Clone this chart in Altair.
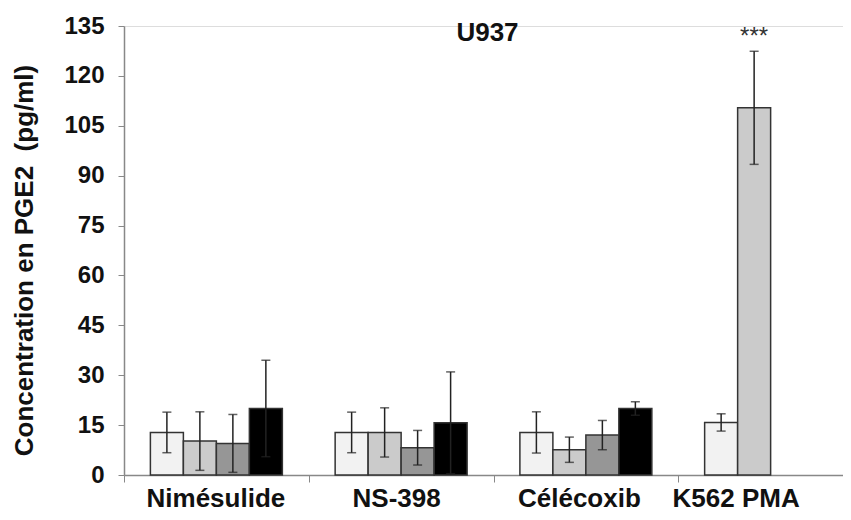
import altair as alt
import pandas as pd

categories = ["Nimésulide", "NS-398", "Célécoxib", "K562 PMA"]
label_shift = [-1, -5, -7, -35]
series = ["s1", "s2", "s3", "s4"]
colors = ["#f2f2f2", "#cbcbcb", "#969696", "#000000"]

mean_s1 = [12.8, 12.8, 12.8, 15.8]
err_s1 = [6.1, 6.1, 6.2, 2.6]
mean_s2 = [10.2, 12.8, 7.6, 110.4]
err_s2 = [8.8, 7.4, 3.8, 17.0]
mean_s3 = [9.5, 8.2, 12.0, None]
err_s3 = [8.7, 5.2, 4.4, None]
mean_s4 = [20.0, 15.7, 20.0, None]
err_s4 = [14.5, 15.3, 2.0, None]

star_cat = ["K562 PMA"]
star_series = ["s2"]
star_text = ["***"]

rows = []
for s, m, e in zip(series, [mean_s1, mean_s2, mean_s3, mean_s4],
                   [err_s1, err_s2, err_s3, err_s4]):
    for c, mv, ev in zip(categories, m, e):
        if mv is None:
            continue
        rows.append({"cat": c, "series": s, "mean": mv, "lo": mv - ev, "hi": mv + ev})
df = pd.DataFrame(rows)

star_rows = []
for c, s, t in zip(star_cat, star_series, star_text):
    r = df[(df.cat == c) & (df.series == s)].iloc[0]
    star_rows.append({"cat": c, "series": s, "hi": r["hi"], "txt": t})
star_df = pd.DataFrame(star_rows)

FONT = "Liberation Sans"

label_offset = {
    "condition": [{"test": f"datum.value === '{c}'", "value": v}
                  for c, v in zip(categories[1:], label_shift[1:])],
    "value": label_shift[0],
}

x_enc = alt.X(
    "cat:N", sort=categories,
    scale=alt.Scale(domain=categories, range=[0, 739], paddingInner=0, paddingOuter=0),
    axis=alt.Axis(title=None, labelAngle=0, labelFontSize=26, labelFontWeight="bold",
                  labelFont=FONT, labelColor="#111", tickBand="extent", tickSize=7,
                  labelPadding=3, labelOffset=label_offset,
                  domainColor="#888", tickColor="#888", domainWidth=1.5),
)
xoff_enc = alt.XOffset(
    "series:N", sort=series,
    scale=alt.Scale(domain=series, paddingInner=0, paddingOuter=0.8),
)
y_scale = alt.Scale(domain=[0, 135], nice=False)

bars = alt.Chart(df).mark_bar(stroke="#333", strokeWidth=1.5).encode(
    x=x_enc, xOffset=xoff_enc,
    y=alt.Y("mean:Q", scale=y_scale,
            axis=alt.Axis(values=list(range(0, 136, 15)),
                          title="Concentration en PGE2\u00a0 (pg/ml)",
                          titleFontSize=26, titleFontWeight="bold", titleFont=FONT,
                          titleColor="#111", titlePadding=26, titleY=234,
                          labelFontSize=24, labelFontWeight="bold", labelFont=FONT,
                          labelColor="#111", labelPadding=14, tickSize=6, grid=False,
                          domainColor="#888", tickColor="#888", domainWidth=1.5)),
    color=alt.Color("series:N", scale=alt.Scale(domain=series, range=colors), legend=None),
)

rules = alt.Chart(df).mark_rule(color="#222", strokeWidth=1.5).encode(
    x=alt.X("cat:N", sort=categories), xOffset=alt.XOffset("series:N", sort=series),
    y=alt.Y("lo:Q"), y2="hi:Q",
)
caps_hi = alt.Chart(df).mark_tick(orient="horizontal", size=9, thickness=1.5, color="#222").encode(
    x=alt.X("cat:N", sort=categories), xOffset=alt.XOffset("series:N", sort=series),
    y=alt.Y("hi:Q"),
)
caps_lo = alt.Chart(df).mark_tick(orient="horizontal", size=9, thickness=1.5, color="#222").encode(
    x=alt.X("cat:N", sort=categories), xOffset=alt.XOffset("series:N", sort=series),
    y=alt.Y("lo:Q"),
)
stars = alt.Chart(star_df).mark_text(dy=-14, fontSize=24, color="#333", font=FONT).encode(
    x=alt.X("cat:N", sort=categories), xOffset=alt.XOffset("series:N", sort=series),
    y=alt.Y("hi:Q"), text="txt:N",
)

chart = alt.layer(bars, rules, caps_hi, caps_lo, stars).properties(
    width=719, height=449,
    autosize=alt.AutoSizeParams(type="none"),
    padding={"left": 116, "top": 18, "right": 0, "bottom": 37},
    title=alt.TitleParams("U937", fontSize=26, fontWeight="bold", font=FONT, color="#111",
                          anchor="middle", offset=-32, dx=4),
).configure_view(stroke=None).configure(background="white")

chart.save("out.html", embed_options={"renderer": "svg", "actions": False})
